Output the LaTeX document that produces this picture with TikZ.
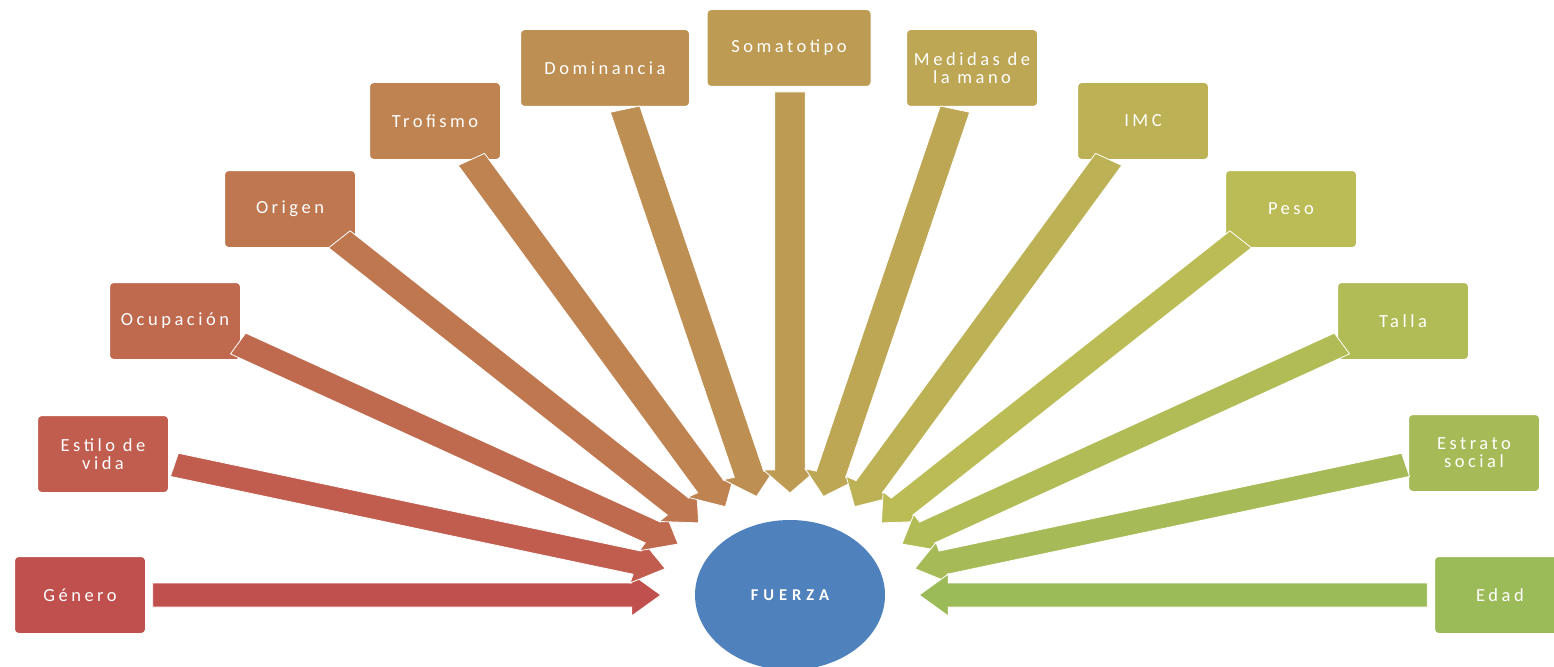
\documentclass[tikz,border=0pt]{standalone}
\usepackage{fontspec}
\setmainfont{Carlito}
\newfontfamily\cajafont[LetterSpace=19]{Carlito}
\newfontfamily\hubfont[LetterSpace=30]{Carlito}
\usetikzlibrary{shapes.geometric}

\definecolor{col0}{RGB}{192,80,77}
\definecolor{col1}{RGB}{192,93,78}
\definecolor{col2}{RGB}{191,106,79}
\definecolor{col3}{RGB}{191,119,80}
\definecolor{col4}{RGB}{190,131,81}
\definecolor{col5}{RGB}{190,143,82}
\definecolor{col6}{RGB}{189,155,83}
\definecolor{col7}{RGB}{189,166,84}
\definecolor{col8}{RGB}{189,177,85}
\definecolor{col9}{RGB}{188,188,86}
\definecolor{col10}{RGB}{177,188,87}
\definecolor{col11}{RGB}{166,187,88}
\definecolor{col12}{RGB}{155,187,89}
\definecolor{hubblue}{RGB}{79,129,189}

\begin{document}
\begin{tikzpicture}[x=1pt,y=1pt]
  \tikzstyle{caja}=[draw=white,line width=1pt,rounded corners=4pt,minimum width=131pt,minimum height=77pt,
                    inner sep=0pt,align=center,text=white,font=\cajafont\fontsize{18.5}{18}\selectfont]
  \tikzstyle{flecha}=[draw=white,line width=0.8pt]
  \useasboundingbox (0,0) rectangle (1554,-666);

  \node[ellipse,fill=hubblue,minimum width=190pt,minimum height=150pt,inner sep=0pt,text=white,
        font=\hubfont\bfseries\fontsize{16.5}{18}\selectfont] (fuerza) at (790,-595) {FUERZA};

  % cajas
  \node[caja,fill=col0]                      (genero)     at (80,-595)   {Género};
  \node[caja,fill=col1]                      (estilo)     at (103,-454)  {Estilo de\\vida};
  \node[caja,fill=col2]                      (ocupacion)  at (175,-321)  {Ocupación};
  \node[caja,fill=col3]                      (origen)     at (290,-209)  {Origen};
  \node[caja,fill=col4]                      (trofismo)   at (435,-121)  {Trofismo};
  \node[caja,fill=col5,minimum width=169pt]  (dominancia) at (605,-68)   {Dominancia};
  \node[caja,fill=col6,minimum width=164pt]  (somatotipo) at (789,-48)   {Somatotipo};
  \node[caja,fill=col7]                      (medidas)    at (972,-68)   {Medidas de\\la mano};
  \node[caja,fill=col8]                      (imc)        at (1143,-121) {IMC};
  \node[caja,fill=col9]                      (peso)       at (1291,-209) {Peso};
  \node[caja,fill=col10]                     (talla)      at (1403,-321) {Talla};
  \node[caja,fill=col11]                     (estrato)    at (1474,-453) {Estrato\\social};
  \node[caja,fill=col12]                     (edad)       at (1500,-595) {Edad};

  % flechas hacia el centro
  \foreach \a/\c in {180/col0,165/col1,150/col2,135/col3,120/col4,105/col5,90/col6,
                     75/col7,60/col8,45/col9,30/col10,15/col11,0/col12}
    \filldraw[flecha,fill=\c,shift={(fuerza.center)},xscale=1.267,rotate=\a]
      (503,12) -- (125,12) -- (125,21) -- (102,0) -- (125,-21) -- (125,-12) -- (503,-12) -- cycle;
\end{tikzpicture}
\end{document}
